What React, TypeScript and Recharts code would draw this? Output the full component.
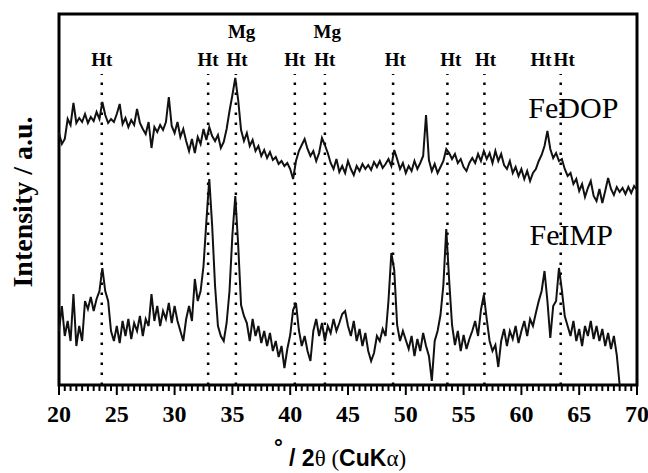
import { LineChart, Line, XAxis, YAxis, ReferenceLine, ReferenceArea, ReferenceDot } from 'recharts';

// intensities (a.u.), one value every 0.25 deg from 20 to 70
const feDop = [
    252, 241, 246, 266, 260, 282, 262, 267,
    263, 271, 262, 268, 264, 273, 266, 283,
    270, 262, 266, 263, 271, 281, 261, 267,
    258, 265, 260, 276, 262, 256, 251, 263,
    237, 258, 253, 260, 255, 263, 288, 259,
    252, 263, 248, 256, 244, 234, 246, 232,
    248, 241, 256, 245, 258, 249, 244, 250,
    237, 243, 256, 274, 290, 307, 285, 255,
    244, 252, 239, 245, 234, 239, 229, 235,
    227, 233, 225, 228, 221, 224, 219, 222,
    216, 206, 224, 234, 240, 246, 236, 229,
    234, 224, 232, 247, 240, 232, 222, 216,
    226, 213, 219, 212, 224, 216, 210, 219,
    214, 221, 216, 220, 215, 223, 218, 224,
    217, 221, 226, 219, 235, 226, 216, 222,
    212, 219, 214, 224, 216, 222, 229, 270,
    225, 214, 221, 212, 218, 224, 236, 232,
    226, 231, 222, 226, 218, 214, 222, 227,
    222, 231, 224, 234, 226, 232, 222, 234,
    224, 231, 220, 216, 224, 212, 218, 209,
    216, 206, 214, 204, 212, 216, 224, 230,
    239, 254, 236, 227, 232, 224, 226, 216,
    209, 212, 201, 206, 194, 201, 188, 197,
    204, 189, 184, 196, 182, 194, 207, 196,
    190, 198, 193, 197, 191, 198, 192, 199,
    195,
];

const feImp = [
    54, 79, 49, 64, 44, 91, 39, 59,
    44, 84, 76, 88, 74, 86, 94, 117,
    94, 84, 54, 44, 59, 42, 64, 49,
    66, 46, 62, 54, 69, 49, 66, 59,
    91, 64, 79, 59, 74, 66, 82, 62,
    79, 64, 54, 44, 66, 79, 64, 106,
    84, 94, 119, 164, 206, 159, 99, 59,
    49, 44, 62, 94, 150, 189, 140, 80,
    69, 62, 44, 66, 49, 59, 42, 54,
    39, 52, 34, 44, 28, 39, 17, 36,
    50, 75, 82, 55, 39, 49, 34, 24,
    54, 66, 49, 62, 44, 59, 52, 66,
    54, 62, 71, 74, 59, 49, 64, 44,
    56, 39, 52, 34, 24, 32, 49, 44,
    56, 49, 84, 132, 115, 60, 44, 54,
    45, 36, 49, 29, 46, 34, 52, 39,
    29, 4, 44, 54, 70, 100, 156, 105,
    60, 40, 54, 34, 50, 36, 46, 54,
    64, 49, 75, 90, 66, 44, 34, 40,
    18, 44, 56, 39, 54, 46, 59, 42,
    54, 64, 49, 66, 59, 72, 84, 94,
    114, 84, 47, 79, 84, 117, 95, 69,
    59, 49, 64, 44, 56, 39, 59, 49,
    64, 46, 59, 44, 56, 39, 52, 36,
    49, 30, 0, null, null, null, null, null,
    null,
];

const majorTicks = [20, 25, 30, 35, 40, 45, 50, 55, 60, 65, 70];
const htLines = [23.7, 32.9, 35.3, 40.4, 43.0, 48.9, 53.6, 56.8, 63.4];
const htLabels = [23.7, 32.9, 35.4, 40.4, 43.0, 49.1, 53.9, 56.9, 61.7, 63.7];
const mgLabels = [35.8, 43.2];

const data = feDop.map((v, i) => ({ angle: 20 + i * 0.25, feDop: v, feImp: feImp[i] }));
const allTicks = Array.from({ length: 101 }, (_, i) => 20 + i * 0.5);

const serif = "'Times New Roman', 'Liberation Serif', serif";
const sans = "Arial, 'Liberation Sans', sans-serif";

const AngleTick = (props: any) => {
    const { x, y, payload } = props;
    const major = majorTicks.includes(payload.value);
    return (
        <g>
            <line x1={x} x2={x} y1={y} y2={y + (major ? 10 : 6)} stroke="#000" strokeWidth={2} />
            {major && (
                <text x={x} y={y + 37} textAnchor="middle" fontFamily={serif} fontWeight="bold" fontSize={24} fill="#000">
                    {payload.value}
                </text>
            )}
        </g>
    );
};

const word = (text: string, size: number, bold: boolean, anchor = 'middle') => (props: any) => (
    <text x={props.cx} y={props.cy} textAnchor={anchor} fontFamily={serif} fontWeight={bold ? 'bold' : 'normal'} fontSize={size} fill="#000">
        {text}
    </text>
);

// both axis titles, placed from the x axis box
const AxisTitles = (props: any) => {
    const { x, y, width } = props.viewBox;
    const cy = 202;
    return (
        <g>
            <text x={x + width / 2 - 8} y={y + 81} textAnchor="middle" fontSize={23} fill="#000">
                <tspan fontFamily={sans} fontWeight="bold" fontSize={22} dy={-11}>°</tspan>
                <tspan fontFamily={sans} fontWeight="bold" dy={11}> / 2</tspan>
                <tspan fontFamily={serif}>θ (</tspan>
                <tspan fontFamily={sans} fontWeight="bold">CuK</tspan>
                <tspan fontFamily={serif}>α)</tspan>
            </text>
            <text x={22} y={cy} transform={`rotate(-90 22 ${cy})`} textAnchor="middle" dominantBaseline="central"
                fontFamily={serif} fontWeight="bold" fontSize={28} fill="#000">
                Intensity / a.u.
            </text>
        </g>
    );
};

const XrdChart = () => {
    return (
        <div style={{ position: 'absolute', left: 0, top: 0 }}>
            <LineChart width={648} height={473} data={data} margin={{ top: 14, right: 11, left: 59, bottom: 28 }}>
                <XAxis dataKey="angle" type="number" domain={[20, 70]} ticks={allTicks} interval={0}
                    tick={<AngleTick />} tickLine={false} axisLine={false} tickSize={0} tickMargin={0} height={60}
                    label={{ content: AxisTitles }} />
                <YAxis type="number" domain={[0, 371]} width={0} tick={false} tickLine={false} axisLine={false} />
                {htLines.map((a) => (
                    <ReferenceLine key={a} segment={[{ x: a, y: 0 }, { x: a, y: 311 }]} stroke="#000"
                        strokeWidth={2.5} strokeDasharray="2.5 7.5" />
                ))}
                <Line dataKey="feDop" stroke="#111" strokeWidth={2} dot={false} isAnimationActive={false} />
                <Line dataKey="feImp" stroke="#111" strokeWidth={2} dot={false} isAnimationActive={false} />
                {htLabels.map((a) => (
                    <ReferenceDot key={'ht' + a} x={a} y={319} r={0} shape={word('Ht', 19, true)} />
                ))}
                {mgLabels.map((a) => (
                    <ReferenceDot key={'mg' + a} x={a} y={347} r={0} shape={word('Mg', 19, true)} />
                ))}
                <ReferenceDot x={60.6} y={267} r={0} shape={word('FeDOP', 30, false, 'start')} />
                <ReferenceDot x={60.7} y={140} r={0} shape={word('FeIMP', 30, false, 'start')} />
                <ReferenceArea x1={20} x2={70} y1={0} y2={371} fill="none" stroke="#000" strokeWidth={3} />
            </LineChart>
        </div>
    );
};

export default XrdChart;
